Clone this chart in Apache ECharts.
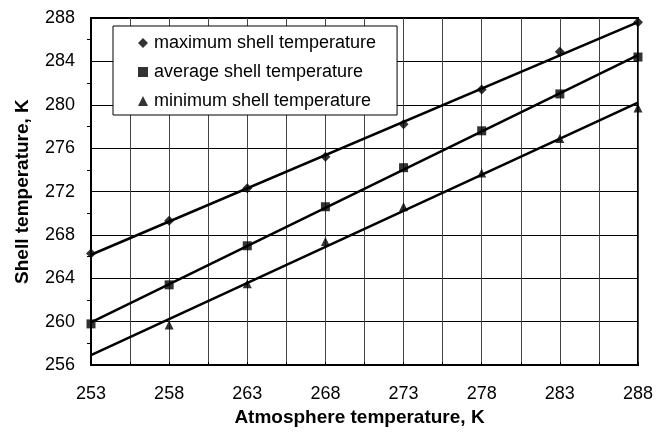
<!DOCTYPE html>
<html><head><meta charset="utf-8">
<script src="https://cdn.jsdelivr.net/npm/echarts@6/dist/echarts.min.js"></script>
<style>html,body{margin:0;padding:0;background:#fff}#c{width:656px;height:432px}</style>
</head><body><div id="c"></div>
<script>
const atmMax = [253, 258, 263, 268, 273, 278, 283, 288];
const shellMax = [266.3, 269.3, 272.3, 275.2, 278.2, 281.4, 284.9, 287.6];
const atmAvg = [253, 258, 263, 268, 273, 278, 283, 288];
const shellAvg = [259.8, 263.4, 267.0, 270.6, 274.2, 277.6, 281.0, 284.4];
const atmMin = [258, 263, 268, 273, 278, 283, 288];
const shellMin = [259.7, 263.5, 267.4, 270.6, 273.7, 276.9, 279.7];
const names = ['maximum shell temperature', 'average shell temperature', 'minimum shell temperature'];
const xRange = [253, 288];
const yTicks = [256, 288, 4];

function fit(xs, ys) {
  const n = xs.length;
  const mx = xs.reduce((a, b) => a + b, 0) / n;
  const my = ys.reduce((a, b) => a + b, 0) / n;
  let sxy = 0, sxx = 0;
  for (let i = 0; i < n; i++) { sxy += (xs[i] - mx) * (ys[i] - my); sxx += (xs[i] - mx) ** 2; }
  const b = sxy / sxx, a = my - b * mx;
  return xRange.map(x => [x, a + b * x]);
}
const pairs = (xs, ys) => xs.map((x, i) => [x, ys[i]]);

const sets = [
  [atmMax, shellMax, 'diamond', 10],
  [atmAvg, shellAvg, 'rect', 9],
  [atmMin, shellMin, 'triangle', 9]
];
const series = [];
sets.forEach((s, i) => {
  series.push({
    type: 'line', data: fit(s[0], s[1]), showSymbol: false, silent: true,
    lineStyle: { color: '#000', width: 2.5 }, z: 2, animation: false
  });
});
sets.forEach((s, i) => {
  series.push({
    name: names[i], type: 'scatter', data: pairs(s[0], s[1]),
    symbol: s[2], symbolSize: s[3], itemStyle: { color: '#000' }, z: 3, animation: false
  });
});

const FF = 'Liberation Sans, Arial, sans-serif';
const chart = echarts.init(document.getElementById('c'), null, { renderer: 'canvas' });
chart.setOption({
  animation: false,
  textStyle: { fontFamily: FF },
  grid: { left: 91, top: 18, right: 17, bottom: 64, show: true, borderColor: '#000', borderWidth: 2 },
  legend: {
    data: names, orient: 'vertical', left: 113, top: 26,
    backgroundColor: '#fff', borderColor: '#000', borderWidth: 1,
    padding: [8, 21, 5, 25], itemGap: 11, itemWidth: 10, itemHeight: 10,
    textStyle: { fontSize: 18, color: '#000', fontFamily: FF, padding: [0, 0, 0, 1] }
  },
  xAxis: {
    type: 'value', min: xRange[0], max: xRange[1], interval: 2.5,
    name: 'Atmosphere temperature, K', nameLocation: 'middle', nameGap: 42.5,
    nameTextStyle: { fontSize: 19, fontWeight: 'bold', color: '#000', fontFamily: FF, padding: [0, 10, 0, 0] },
    axisLine: { lineStyle: { color: '#000', width: 2 } },
    axisTick: { inside: true, length: 3, lineStyle: { color: '#000' } },
    axisLabel: { fontSize: 18, color: '#000', margin: 20, fontFamily: FF,
      formatter: v => (Math.abs((v - xRange[0]) % 5) < 1e-6 ? String(Math.round(v)) : '') },
    splitLine: { show: true, lineStyle: { color: '#444', width: 1 } }
  },
  yAxis: {
    type: 'value', min: yTicks[0], max: yTicks[1], interval: yTicks[2],
    name: 'Shell temperature, K', nameLocation: 'middle', nameGap: 58.5,
    nameTextStyle: { fontSize: 19, fontWeight: 'bold', color: '#000', fontFamily: FF },
    axisLine: { show: true, lineStyle: { color: '#000', width: 2 } },
    axisTick: { show: false },
    minorTick: { show: true, splitNumber: 2, length: 4, lineStyle: { color: '#000' } },
    axisLabel: { fontSize: 18, color: '#000', margin: 16, fontFamily: FF },
    splitLine: { show: true, lineStyle: { color: '#000', width: 1 } }
  },
  series: series
});
</script></body></html>
